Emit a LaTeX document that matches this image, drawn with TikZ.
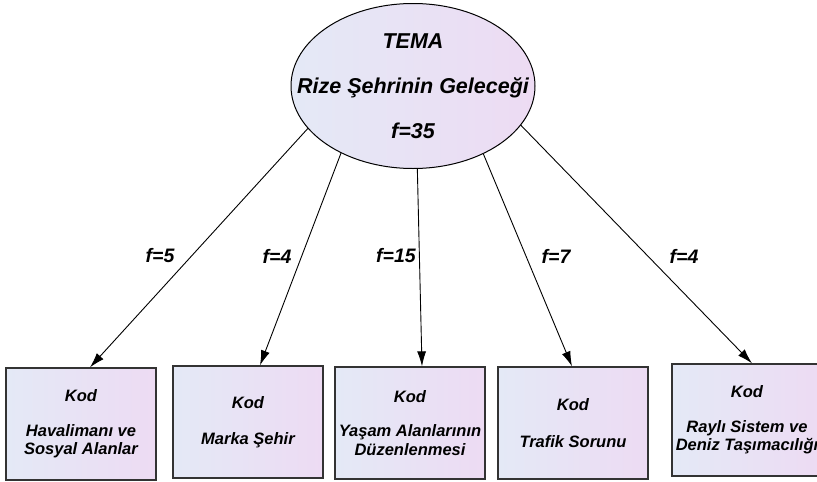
\documentclass[tikz,border=0pt]{standalone}
\usepackage{fontspec}
\setmainfont{Liberation Sans}
\usetikzlibrary{arrows.meta,shapes.geometric}
\definecolor{shadeL}{RGB}{228,233,246}
\definecolor{shadeR}{RGB}{237,219,243}
\tikzset{
  tema/.style={ellipse, draw, line width=1pt, left color=shadeL, right color=shadeR,
    minimum width=244pt, minimum height=165pt, inner xsep=-40pt, inner ysep=-6pt, align=center,
    font=\fontsize{21.5}{25}\selectfont\bfseries\itshape},
  kodbox/.style={rectangle, draw=black!80, line width=1.3pt, left color=shadeL, right color=shadeR,
    minimum width=150pt, minimum height=112pt, inner sep=0pt, align=center,
    font=\fontsize{16.5}{18.5}\selectfont\bfseries\itshape},
  freq/.style={font=\fontsize{19.5}{22}\selectfont\bfseries\itshape},
  link/.style={-{Latex[length=15pt,width=9pt]}, line width=0.9pt}
}
\begin{document}
\begin{tikzpicture}[x=1pt, y=-1pt]
  \useasboundingbox (0,0) rectangle (817,482);
  % Nodes
  \node (tema) [tema] at (413,86) {TEMA\\[20pt]Rize Şehrinin Geleceği\\[20pt]f=35};
  \node (kod1) [kodbox] at (81,424) {Kod\\[16pt]Havalimanı ve\\Sosyal Alanlar};
  \node (kod2) [kodbox] at (248,422) {Kod\\[18pt]Marka Şehir};
  \node (kod3) [kodbox] at (410,423) {Kod\\[16pt]Yaşam Alanlarının\\Düzenlenmesi};
  \node (kod4) [kodbox] at (573,423) {Kod\\[18pt]Trafik Sorunu};
  \node (kod5) [kodbox] at (747,420) {Kod\\[16pt]Raylı Sistem ve\\Deniz Taşımacılığı};
  % Arrows
  \draw[link] (tema.202) -- ([xshift=9pt]kod1.north);
  \draw[link] (tema.223) -- ([xshift=12pt]kod2.north);
  \draw[link] (tema.273.5) -- ([xshift=12pt]kod3.north);
  \draw[link] (tema.316) -- ([xshift=-1pt]kod4.north);
  \draw[link] (tema.340) -- ([xshift=5pt]kod5.north);
  % Frequencies
  \node (f1) [freq] at (160,256) {f=5};
  \node (f2) [freq] at (277,256) {f=4};
  \node (f3) [freq] at (396,256) {f=15};
  \node (f4) [freq] at (556,256) {f=7};
  \node (f5) [freq] at (684,256) {f=4};
\end{tikzpicture}
\end{document}
